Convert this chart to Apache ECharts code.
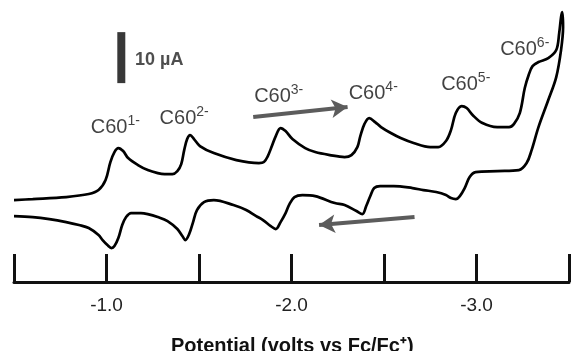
<!DOCTYPE html>
<html>
<head>
<meta charset="utf-8">
<script src="https://cdn.jsdelivr.net/npm/echarts@6/dist/echarts.min.js"></script>
<style>
html,body{margin:0;padding:0;background:#fff;}
#chart{width:572px;height:351px;}
</style>
</head>
<body>
<div id="chart"></div>
<script>
// Potential (V vs Fc/Fc+), forward (cathodic) sweep
const fwdV = [-0.500,-0.601,-0.782,-0.904,-0.957,-0.995,-1.021,-1.043,-1.064,-1.090,-1.117,-1.170,-1.223,-1.277,-1.314,-1.356,-1.383,-1.404,-1.420,-1.436,-1.452,-1.473,-1.505,-1.580,-1.702,-1.824,-1.851,-1.872,-1.894,-1.915,-1.941,-1.968,-2.005,-2.074,-2.128,-2.207,-2.287,-2.324,-2.356,-2.372,-2.394,-2.420,-2.452,-2.484,-2.537,-2.590,-2.660,-2.750,-2.793,-2.835,-2.862,-2.888,-2.920,-2.947,-2.979,-3.032,-3.112,-3.176,-3.202,-3.234,-3.261,-3.282,-3.303,-3.335,-3.388,-3.431,-3.447,-3.457,-3.463];
// Current (µA, arbitrary offset), forward sweep
const fwdI = [1.57,1.76,2.16,2.75,3.53,5.49,9.02,10.98,11.76,11.18,9.80,8.43,7.45,6.86,6.67,6.67,7.25,8.63,11.37,13.53,14.31,13.53,12.16,10.78,9.41,8.82,9.02,10.20,12.16,14.12,15.69,15.10,13.53,11.76,10.98,10.39,10.00,10.39,11.96,14.12,16.47,17.65,16.86,15.88,14.71,13.73,12.75,11.96,11.96,13.14,15.29,18.63,20.00,19.61,18.24,16.67,15.88,15.88,16.47,18.63,23.53,26.08,27.84,28.63,29.41,30.98,34.31,37.45,38.43];
// Reverse (anodic) sweep
const revV = [-3.468,-3.457,-3.431,-3.388,-3.335,-3.298,-3.271,-3.229,-3.112,-2.995,-2.963,-2.936,-2.910,-2.888,-2.862,-2.835,-2.782,-2.713,-2.654,-2.553,-2.479,-2.447,-2.426,-2.404,-2.383,-2.351,-2.287,-2.234,-2.128,-2.059,-2.016,-1.989,-1.968,-1.941,-1.915,-1.888,-1.846,-1.809,-1.755,-1.686,-1.580,-1.527,-1.489,-1.468,-1.447,-1.426,-1.410,-1.383,-1.330,-1.277,-1.223,-1.186,-1.133,-1.106,-1.085,-1.064,-1.043,-1.027,-1.005,-0.979,-0.957,-0.904,-0.851,-0.782,-0.691,-0.601,-0.500];
const revI = [35.49,30.98,25.69,21.18,15.88,11.37,8.82,7.45,7.25,7.06,6.08,3.92,2.35,1.76,1.96,2.55,3.14,3.53,3.92,4.31,4.31,3.92,2.35,0.39,-1.18,-0.59,0.59,0.98,2.35,2.55,2.16,0.78,-0.98,-2.75,-4.12,-3.53,-2.35,-1.57,-0.39,0.59,1.57,1.18,-0.39,-2.75,-5.10,-6.27,-5.49,-4.12,-2.55,-1.76,-1.18,-0.98,-0.98,-1.76,-3.33,-5.88,-7.45,-7.84,-7.25,-6.27,-5.29,-3.92,-3.33,-2.75,-2.16,-1.76,-1.57];

// Species labels
const speciesSup = ['1-','2-','3-','4-','5-','6-'];
const speciesV = [-0.915,-1.287,-1.798,-2.309,-2.809,-3.128];
const speciesI = [15.88,17.65,21.96,22.55,24.31,31.18];

// Sweep-direction arrows [tailV, tailI, tipV, tipI]
const arrowFwd = [-1.793,17.84,-2.303,19.80];
const arrowRev = [-2.665,-1.76,-2.149,-3.33];

// Scale bar: 10 µA
const scaleBarV = -1.080;
const scaleBarI = [24.5,34.5];
const scaleLabel = '10 µA';
const scaleLabelPos = [-1.154,29.0];

// Axis ticks
const tickLabelValues = [-1,-2,-3];
const xTitle = 'Potential (volts vs Fc/Fc\u207A)';

const cvData = fwdV.map((v,i)=>[v,fwdI[i]]).concat(revV.map((v,i)=>[v,revI[i]]));
const labelData = speciesV.map((v,i)=>({value:[v,speciesI[i]], sup:speciesSup[i]}));

const FONT = '"Liberation Sans", Arial, Helvetica, sans-serif';

const chart = echarts.init(document.getElementById('chart'), null, {renderer:'canvas'});
chart.setOption({
  animation:false,
  backgroundColor:'#fff',
  title:{
    text:xTitle,
    left:166, top:331,
    textStyle:{fontFamily:FONT,fontSize:20,fontWeight:'bold',color:'#111'}
  },
  grid:{left:14, width:564, top:0, height:282, containLabel:false},
  xAxis:{
    type:'value', inverse:true, min:-3.5, max:-0.5, interval:0.5,
    axisLine:{show:true, onZero:false, lineStyle:{color:'#111', width:3}},
    axisTick:{show:true, inside:true, length:28, lineStyle:{color:'#111', width:3}},
    splitLine:{show:false},
    axisLabel:{
      margin:14, fontFamily:FONT, fontSize:19, color:'#222', hideOverlap:false,
      formatter:function(v){
        for (const t of tickLabelValues){ if (Math.abs(v-t)<1e-9) return t.toFixed(1); }
        return '';
      }
    }
  },
  yAxis:{type:'value', min:-14.5, max:40.8, show:false},
  series:[
    {
      type:'line', data:cvData, showSymbol:false, smooth:0.35,
      lineStyle:{color:'#000', width:2.7}, clip:true, z:3,
      markLine:{
        silent:true, animation:false,
        label:{show:false},
        data:[
          [{coord:[arrowFwd[0],arrowFwd[1]], symbol:'none'},{coord:[arrowFwd[2],arrowFwd[3]], symbol:'arrow', symbolSize:[14,16]}],
          [{coord:[arrowRev[0],arrowRev[1]], symbol:'none'},{coord:[arrowRev[2],arrowRev[3]], symbol:'arrow', symbolSize:[14,16]}]
        ],
        lineStyle:{color:'#5c5c5c', width:4, type:'solid'}
      }
    },
    {
      type:'line', data:[[scaleBarV,scaleBarI[0]],[scaleBarV,scaleBarI[1]]],
      showSymbol:false, lineStyle:{color:'#383838', width:8, cap:'butt'}, z:2
    },
    {
      type:'scatter', symbolSize:0, data:labelData, z:4,
      label:{
        show:true, position:'right', distance:0,
        formatter:function(p){ return '{m|C60}{s|' + p.data.sup + '}'; },
        rich:{
          m:{fontFamily:FONT, fontSize:20, color:'#111', lineHeight:26, verticalAlign:'middle'},
          s:{fontFamily:FONT, fontSize:14, color:'#111', lineHeight:26, verticalAlign:'top', padding:[0,0,8,0]}
        }
      }
    },
    {
      type:'scatter', symbolSize:0, data:[scaleLabelPos], z:4,
      label:{show:true, position:'right', distance:0, formatter:scaleLabel,
        fontFamily:FONT, fontSize:18, fontWeight:'bold', color:'#222'}
    }
  ]
});
</script>
</body>
</html>
